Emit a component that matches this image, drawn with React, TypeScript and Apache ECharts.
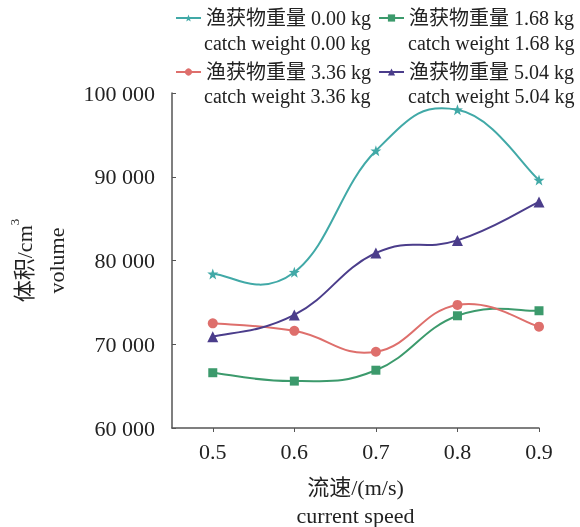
import React, { useEffect, useRef } from "react";
import * as echarts from "echarts";

const speeds = [0.5, 0.6, 0.7, 0.8, 0.9];
const seriesNames = ["渔获物重量 0.00 kg", "渔获物重量 1.68 kg", "渔获物重量 3.36 kg", "渔获物重量 5.04 kg"];
const seriesNamesEn = ["catch weight 0.00 kg", "catch weight 1.68 kg", "catch weight 3.36 kg", "catch weight 5.04 kg"];
const w000 = [78400, 78600, 93100, 98000, 89600];
const w168 = [66600, 65600, 66900, 73400, 74000];
const w336 = [72500, 71600, 69100, 74700, 72100];
const w504 = [70900, 73500, 80900, 82400, 87000];
const colors = ["#41a9a7", "#3c9a6c", "#de6f6c", "#4b3d8b"];
const yTicks = [60000, 70000, 80000, 90000, 100000];

const STAR = "path://M0,-10 L2.35,-3.24 9.51,-3.09 3.8,1.24 5.88,8.09 0,4 -5.88,8.09 -3.8,1.24 -9.51,-3.09 -2.35,-3.24Z";
const FONT = "'Liberation Serif', 'Noto Sans CJK SC', serif";
const K = 0.22;

function splinePath(pts: number[][]): string {
  let d = `M${pts[0][0]},${pts[0][1]}`;
  for (let i = 0; i < pts.length - 1; i++) {
    const p0 = pts[Math.max(i - 1, 0)];
    const p1 = pts[i];
    const p2 = pts[i + 1];
    const p3 = pts[Math.min(i + 2, pts.length - 1)];
    const c1 = [p1[0] + (p2[0] - p0[0]) * K, p1[1] + (p2[1] - p0[1]) * K];
    const c2 = [p2[0] - (p3[0] - p1[0]) * K, p2[1] - (p3[1] - p1[1]) * K];
    d += ` C${c1[0]},${c1[1]} ${c2[0]},${c2[1]} ${p2[0]},${p2[1]}`;
  }
  return d;
}

export default function App() {
  const ref = useRef<HTMLDivElement>(null);
  useEffect(() => {
    if (!ref.current) return;
    const chart = echarts.init(ref.current, undefined, { renderer: "svg" });
    const allData = [w000, w168, w336, w504];
    const symbols = [STAR, "rect", "circle", "triangle"];
    const sizes = [11, 9, 10, 11];
    const fmt = (v: number) => String(v).replace(/\B(?=(\d{3})+(?!\d))/g, " ");
    const legendItem = (i: number) => ({
      name: seriesNames[i],
      lineStyle: { color: colors[i], width: 2, opacity: 1 },
      itemStyle: { color: colors[i] },
    });
    const legendBase = {
      orient: "vertical",
      top: 7,
      padding: 0,
      itemGap: 32,
      itemWidth: 25,
      itemHeight: 9,
      selectedMode: false,
      textStyle: { fontSize: 20, color: "#222", fontFamily: FONT, lineHeight: 22 },
    };
    const enText = (i: number, x: number, y: number) => ({
      type: "text",
      x,
      y,
      style: { text: seriesNamesEn[i], font: `20px ${FONT}`, fill: "#222", verticalAlign: "middle" },
    });
    chart.setOption({
      animation: false,
      textStyle: { fontFamily: FONT },
      grid: { left: 172, right: 41, top: 93, bottom: 99, outerBoundsMode: "none" },
      legend: [
        { ...legendBase, left: 175, data: [legendItem(0), legendItem(2)] },
        { ...legendBase, left: 378, data: [legendItem(1), legendItem(3)] },
      ],
      graphic: [enText(0, 204, 43), enText(1, 408, 43), enText(2, 204, 96), enText(3, 408, 96)],
      xAxis: {
        type: "value",
        min: 0.45,
        max: 0.9,
        name: "流速/(m/s)\ncurrent speed",
        nameLocation: "middle",
        nameGap: 45,
        nameTextStyle: { fontSize: 22, color: "#222", fontFamily: FONT, lineHeight: 28 },
        splitLine: { show: false },
        axisLine: { lineStyle: { color: "#555", width: 1.5 } },
        axisTick: { show: true, inside: false, length: 4, customValues: speeds, lineStyle: { color: "#555" } },
        axisLabel: { customValues: speeds, fontSize: 22, color: "#222", margin: 12, formatter: (v: number) => v.toFixed(1) },
      },
      yAxis: {
        type: "value",
        min: 60000,
        max: 100000,
        interval: 10000,
        name: "体积/cm{sup|3}\nvolume",
        nameLocation: "middle",
        nameGap: 100,
        nameTextStyle: {
          fontSize: 22,
          color: "#222",
          fontFamily: FONT,
          lineHeight: 32,
          rich: { sup: { fontSize: 13, verticalAlign: "top", lineHeight: 26, fontFamily: FONT, color: "#222" } },
        },
        splitLine: { show: false },
        axisLine: { show: true, lineStyle: { color: "#555", width: 1.5 } },
        axisTick: { show: true, inside: true, length: 4, lineStyle: { color: "#555" } },
        axisLabel: { fontSize: 22, color: "#222", margin: 17, formatter: (v: number) => (yTicks.includes(v) ? fmt(v) : "") },
      },
      series: [
        ...allData.map((d, i) => ({
          type: "custom",
          z: 1,
          silent: true,
          data: [[speeds[0], d[0]]],
          renderItem: (_p: any, api: any) => {
            const pts = speeds.map((s, j) => api.coord([s, d[j]]));
            return {
              type: "path",
              shape: { pathData: splinePath(pts) },
              style: { stroke: colors[i], lineWidth: 2, fill: "none" },
            };
          },
        })),
        ...allData.map((d, i) => ({
          name: seriesNames[i],
          type: "line",
          z: 3,
          data: speeds.map((s, j) => [s, d[j]]),
          symbol: symbols[i],
          symbolSize: sizes[i],
          itemStyle: { color: colors[i] },
          lineStyle: { color: colors[i], width: 0, opacity: 0 },
        })),
      ],
    });
    return () => chart.dispose();
  }, []);
  return <div ref={ref} style={{ position: "fixed", left: 0, top: 0, width: 580, height: 527 }} />;
}
